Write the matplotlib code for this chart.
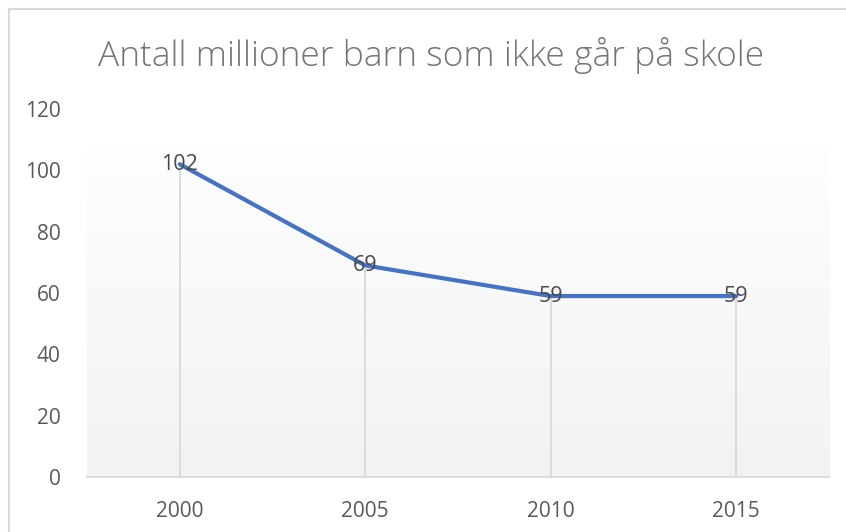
import matplotlib.pyplot as plt
import numpy as np
from matplotlib.lines import Line2D

# data
years = ["2000", "2005", "2010", "2015"]
children = [102, 69, 59, 59]
yticks = [0, 20, 40, 60, 80, 100, 120]

plt.rcParams['font.family'] = ['Open Sans', 'DejaVu Sans']

fig = plt.figure(figsize=(8.46, 5.32), dpi=100)
ax = fig.add_axes([87 / 846, 55 / 532, (829 - 87) / 846, (477 - 109) / 532])

x = np.arange(len(years))

# gradient background (stops a bit below the top like the original)
grad = np.linspace(0, 1, 256).reshape(-1, 1)
top_frac = (477 - 150) / (477 - 109)
ax.imshow(grad, cmap=plt.matplotlib.colors.LinearSegmentedColormap.from_list(
    "bg", ["#f2f2f2", "#fefefe"]), aspect='auto', origin='lower',
    extent=(0, 1, 0, top_frac), transform=ax.transAxes, zorder=0)

# drop lines
ax.vlines(x, 0, children, color="#d9d9d9", lw=1.3, zorder=1)

ax.plot(x, children, color="#4472c4", lw=3.0, solid_capstyle='round', zorder=3)

for xi, v in zip(x, children):
    ax.text(xi, v, str(v), ha='center', va='center', fontsize=15.5,
            color="#4a4a4a", zorder=4)

ax.set_xlim(-0.5, len(years) - 0.5)
ax.set_ylim(0, 120)
ax.set_xticks(x)
ax.set_xticklabels(years)
ax.set_yticks(yticks)
ax.tick_params(axis='both', length=0, labelsize=15, labelcolor="#595959")
ax.tick_params(axis='y', pad=19)
ax.tick_params(axis='x', pad=17)

for s in ['top', 'right', 'left']:
    ax.spines[s].set_visible(False)
ax.spines['bottom'].set_color("#d9d9d9")
ax.spines['bottom'].set_linewidth(1.3)
ax.set_facecolor("white")

fig.text(431 / 846, 1 - 55 / 532, "Antall millioner barn som ikke går på skole",
         ha='center', va='center', fontsize=25.5, color="#757575", fontweight='light')

# outer chart border (left and top visible)
fig.add_artist(Line2D([8.5 / 846, 8.5 / 846], [0, 1 - 9 / 532], color="#d9d9d9", lw=1.5))
fig.add_artist(Line2D([8.5 / 846, 1], [1 - 9 / 532, 1 - 9 / 532], color="#d9d9d9", lw=1.5))

fig.savefig("out.png", dpi=100)
